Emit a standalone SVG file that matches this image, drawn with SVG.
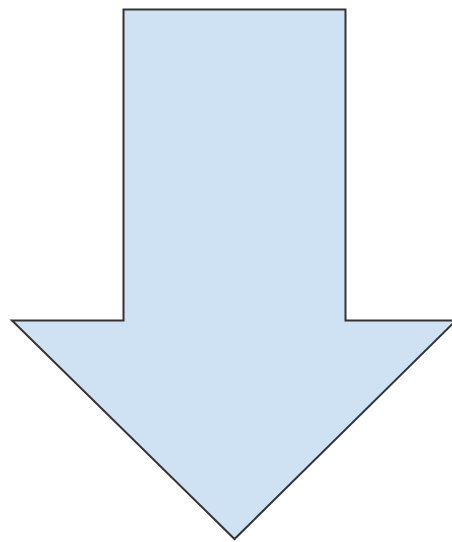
<svg xmlns="http://www.w3.org/2000/svg" width="452" height="542" viewBox="0 0 452 542">
<style>.arrow{fill:#cfe2f3;stroke:#333333;stroke-width:2;stroke-linejoin:miter}</style>
<g id="arrow">
<path class="arrow" d="M123.5,9.5 L345.5,9.5 L345.5,320.5 L456,320.5 L234.5,539 L12,320.5 L123.5,320.5 Z"/>
</g>
</svg>
